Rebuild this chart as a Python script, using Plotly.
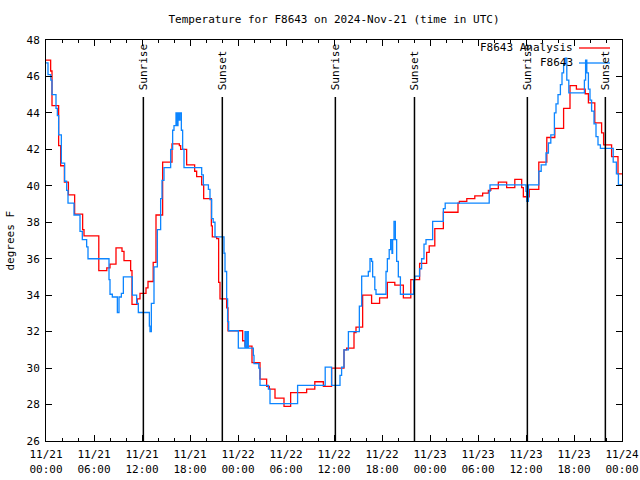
import pandas as pd
import plotly.graph_objects as go

BASE = pd.Timestamp("2024-11-21 00:00")

# F8643 Analysis (red), hours since 11/21 00:00 UTC and temperature (F)
red_hours = [0.0, 0.58, 0.75, 1.58, 1.83, 2.3, 2.8, 3.58, 4.58, 4.75, 6.6, 7.6, 8.0, 8.75, 9.5, 9.75,
             10.58, 10.75, 11.4, 11.75, 12.5, 12.75, 13.4, 13.75, 14.58, 15.75, 16.67, 16.83, 17.58,
             18.58, 18.83, 19.46, 19.71, 20.67, 20.79, 21.33, 21.58, 21.75, 22.58, 22.75, 24.58,
             24.875, 25.75, 26.75, 27.58, 27.92, 28.625, 29.75, 30.58, 32.58, 33.6, 34.67, 35.7,
             37.25, 37.58, 38.5, 38.75, 39.58, 40.7, 41.7, 42.67, 43.6, 44.67, 45.6, 46.7, 47.58,
             47.9, 48.6, 49.67, 51.5, 51.67, 52.6, 53.6, 54.58, 55.3, 55.6, 56.54, 57.58, 58.6,
             59.46, 59.67, 60.4, 61.6, 62.6, 63.6, 64.7, 65.5, 66.3, 67.4, 67.8, 68.6, 69.45,
             69.7, 70.7, 71.5, 72.0]
red_temps = [46.9, 46.3, 44.4, 42.2, 41.1, 40.2, 39.5, 38.45, 37.6, 37.25, 35.35, 35.5, 35.7, 36.6,
             36.4, 35.9, 35.35, 33.5, 33.8, 34.1, 34.4, 34.75, 35.8, 38.4, 41.3, 42.3, 42.2, 42.0,
             41.15, 40.8, 40.5, 40.05, 39.3, 37.8, 37.2, 37.1, 34.7, 33.8, 33.3, 32.05, 31.5, 31.2,
             30.3, 29.4, 29.0, 28.85, 28.35, 27.9, 28.65, 28.85, 29.25, 29.0, 30.0, 31.0, 31.1,
             31.95, 32.25, 34.0, 33.55, 33.85, 34.7, 34.55, 33.85, 34.85, 35.75, 36.35, 36.7, 37.65,
             38.55, 39.05, 39.15, 39.3, 39.45, 39.6, 39.75, 39.85, 40.2, 39.9, 40.35, 39.9, 39.4,
             39.8, 41.3, 42.65, 43.15, 44.25, 45.5, 45.3, 45.05, 44.55, 43.45, 42.9, 42.25, 41.6,
             40.65, 40.65]

# F8643 observations (blue)
blue_hours = [0.0, 0.25, 0.6, 0.75, 1.25, 1.42, 1.58, 1.92, 2.33, 2.58, 2.75, 3.5, 4.25, 4.54, 5.08,
              5.25, 7.875, 8.0, 8.29, 8.92, 9.125, 9.42, 9.67, 10.79, 11.33, 11.54, 12.92, 13.0,
              13.17, 13.5, 13.92, 14.33, 14.5, 14.75, 15.58, 15.83, 16.0, 16.25, 16.4, 16.5, 16.6,
              16.75, 16.92, 17.08, 17.25, 19.46, 19.67, 20.3, 20.5, 20.71, 20.9, 21.125, 22.25,
              22.375, 22.58, 22.7, 22.83, 24.04, 24.875, 25.0, 25.17, 25.29, 25.92, 26.0, 26.6,
              26.75, 27.8, 28.0, 31.45, 34.9, 35.7, 36.75, 36.95, 37.25, 37.8, 39.17, 39.46,
              40.29, 40.5, 40.7, 40.83, 41.1, 41.25, 42.5, 42.67, 42.9, 43.08, 43.25, 43.33,
              43.5, 43.67, 43.83, 44.04, 44.3, 45.96, 46.1, 46.7, 46.95, 47.25, 47.5, 48.33,
              49.67, 49.9, 55.4, 55.5, 60.0, 60.1, 60.3, 61.6, 61.9, 62.5, 62.8, 63.1, 63.55,
              63.75, 64.0, 64.3, 64.5, 64.7, 64.9, 65.1, 65.35, 67.3, 67.45, 67.6, 67.8, 68.0,
              68.2, 68.5, 68.75, 69.0, 69.3, 70.9, 71.3, 71.55, 72.0]
blue_temps = [46.75, 46.1, 45.8, 45.0, 44.25, 43.85, 42.8, 41.25, 40.25, 39.75, 39.05, 38.4, 37.5,
              37.05, 36.65, 36.0, 34.85, 34.05, 33.9, 33.05, 33.9, 34.1, 35.0, 34.0, 33.55, 33.05,
              32.3, 32.0, 33.55, 35.55, 37.6, 39.3, 40.3, 41.0, 42.0, 43.05, 43.3, 44.0, 43.3,
              44.0, 43.6, 44.0, 43.05, 42.0, 41.0, 40.6, 40.05, 39.8, 39.25, 38.2, 38.0, 37.2,
              36.3, 35.3, 33.8, 32.55, 32.05, 31.1, 32.0, 31.1, 32.0, 31.1, 30.7, 30.25, 30.0,
              29.05, 28.85, 28.05, 29.05, 30.05, 29.05, 29.6, 30.05, 31.0, 32.0, 33.4, 35.05,
              35.3, 36.0, 35.85, 35.0, 34.3, 34.05, 35.3, 36.0, 36.5, 37.05, 36.3, 37.05, 38.05,
              37.05, 35.85, 35.0, 34.05, 34.85, 35.05, 35.45, 36.0, 36.8, 37.05, 38.05, 38.75,
              39.05, 39.7, 40.05, 39.7, 39.15, 40.05, 40.8, 41.15, 41.8, 42.35, 42.8, 44.0, 44.5,
              45.0, 45.55, 46.2, 46.65, 47.0, 45.8, 45.1, 45.8, 46.9, 46.2, 45.3, 44.7, 44.1,
              43.4, 42.7, 42.25, 42.05, 41.3, 40.65, 40.05, 40.05]

sunrise_hours = [12.17, 36.17, 60.17]
sunset_hours = [22.04, 46.06, 69.92]

FONT = "DejaVu Sans Mono"

# plot-area pixel box (left, right, top, bottom)
L, R, T, B = 46, 622, 40, 441
W, H = 640, 480


def to_time(hours):
    return BASE + pd.to_timedelta(hours, unit="h")


def px_x(p):
    return (p - L) / float(R - L)


def px_y(p):
    return (B - p) / float(B - T)


fig = go.Figure()
fig.add_trace(go.Scatter(x=to_time(red_hours), y=red_temps, mode="lines", name="F8643 Analysis",
                         line=dict(color="#ff0000", width=1.3, shape="hv")))
fig.add_trace(go.Scatter(x=to_time(blue_hours), y=blue_temps, mode="lines", name="F8643",
                         line=dict(color="#0c85ff", width=1.3, shape="hv")))

for hrs, label in [(sunrise_hours, "Sunrise"), (sunset_hours, "Sunset")]:
    for h in hrs:
        t = to_time(h)
        fig.add_shape(type="line", xref="x", yref="paper", x0=t, x1=t, y0=0, y1=px_y(97),
                      line=dict(color="black", width=1.5))
        fig.add_annotation(x=t, xref="x", y=px_y(92), yref="paper", text=label,
                           textangle=-90, showarrow=False, xanchor="center", yanchor="bottom",
                           font=dict(family=FONT, size=11, color="black"))

# gnuplot-style legend (text right, sample line after it)
for name, color, ypx in [("F8643 Analysis", "#ff0000", 48), ("F8643", "#0c85ff", 63)]:
    fig.add_annotation(x=px_x(575), y=px_y(ypx), xref="paper", yref="paper", text=name,
                       showarrow=False, xanchor="right", yanchor="middle",
                       font=dict(family=FONT, size=11, color="black"))
    fig.add_shape(type="line", xref="paper", yref="paper", x0=px_x(579), x1=px_x(610),
                  y0=px_y(ypx), y1=px_y(ypx), line=dict(color=color, width=1.3))

fig.add_annotation(x=px_x(10), y=0.5, xref="paper", yref="paper", text="degrees F",
                   textangle=-90, showarrow=False, xanchor="center", yanchor="middle",
                   font=dict(family=FONT, size=11, color="black"))

fig.update_layout(
    width=W, height=H,
    margin=dict(l=L, r=W - R, t=T, b=H - B, autoexpand=False),
    paper_bgcolor="white", plot_bgcolor="white",
    showlegend=False,
    title=dict(text="Temperature for F8643 on 2024-Nov-21 (time in UTC)", x=(L + R) / 2 / W,
               xanchor="center", y=1 - 19 / float(H), yanchor="middle",
               font=dict(family=FONT, size=11, color="black")),
    font=dict(family=FONT, size=11, color="black"),
)
fig.update_xaxes(
    type="date", range=[to_time(0), to_time(72)], tick0=to_time(0), dtick=6 * 3600 * 1000,
    tickformat="%m/%d<br>%H:%M", ticks="inside", ticklen=6, tickcolor="black",
    showline=True, linecolor="black", linewidth=1, mirror="allticks", showgrid=False,
    zeroline=False, automargin=False, ticklabelstandoff=3,
    tickfont=dict(family=FONT, size=11, color="black"),
    minor=dict(dtick=2 * 3600 * 1000, ticks="inside", ticklen=3, tickcolor="black", showgrid=False),
)
fig.update_yaxes(
    range=[26, 48], dtick=2, tick0=26, ticks="inside", ticklen=6, tickcolor="black",
    showline=True, linecolor="black", linewidth=1, mirror="allticks", showgrid=False,
    zeroline=False, automargin=False, ticklabelstandoff=3,
    tickfont=dict(family=FONT, size=11, color="black"),
)

fig.write_html("out.html", config={"displayModeBar": False},
               post_script="document.body.style.margin='0px';")
